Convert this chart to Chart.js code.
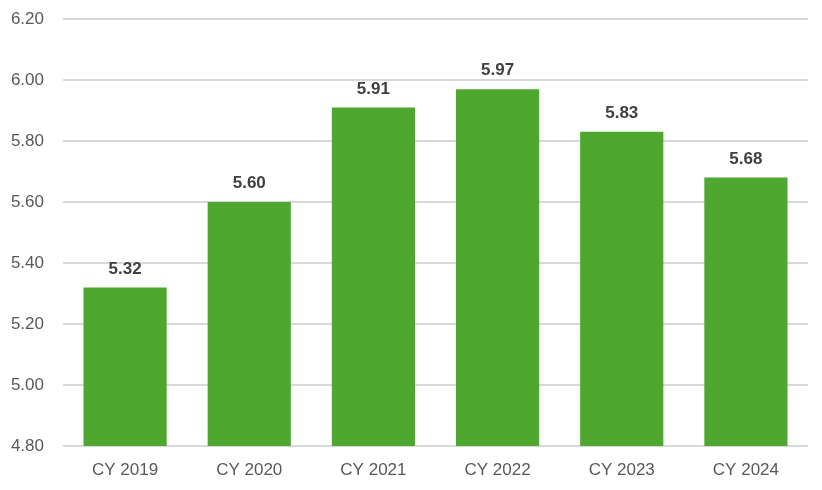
<!DOCTYPE html>
<html>
<head>
<meta charset="utf-8">
<script src="https://cdn.jsdelivr.net/npm/chart.js@4"></script>
<style>
  html, body { margin: 0; padding: 0; background: #fff; }
  #wrap { width: 822px; height: 490px; }
</style>
</head>
<body>
<div id="wrap"><canvas id="cyChart" width="822" height="490"></canvas></div>
<script>
const categories = ['CY 2019', 'CY 2020', 'CY 2021', 'CY 2022', 'CY 2023', 'CY 2024'];
const values = [5.32, 5.60, 5.91, 5.97, 5.83, 5.68];
const yMin = 4.80;
const yMax = 6.20;
const yStep = 0.20;

// etiquetas encima de cada barra
const barLabels = {
    id: 'barLabels',
    afterDatasetsDraw(chart) {
        const ctx = chart.ctx;
        const meta = chart.getDatasetMeta(0);
        ctx.save();
        ctx.font = 'bold 17px "Liberation Sans", Arial, sans-serif';
        ctx.fillStyle = '#404040';
        ctx.textAlign = 'center';
        ctx.textBaseline = 'bottom';
        meta.data.forEach(function (bar, i) {
            ctx.fillText(values[i].toFixed(2), bar.x, bar.y - 10);
        });
        ctx.restore();
    }
};

const ctx = document.getElementById('cyChart').getContext('2d');
const cyChart = new Chart(ctx, {
    type: 'bar',
    data: {
        labels: categories,
        datasets: [{
            data: values,
            backgroundColor: '#4EA72E',
            borderWidth: 0,
            barPercentage: 0.67,
            categoryPercentage: 1.0
        }]
    },
    options: {
        responsive: false,
        animation: false,
        layout: { padding: { left: 0, right: 14, top: 19, bottom: 0 } },
        plugins: {
            legend: { display: false },
            tooltip: { enabled: false }
        },
        scales: {
            x: {
                afterFit(scale) { scale.height = 44; },
                grid: { display: false },
                border: { display: false },
                ticks: {
                    color: '#595959',
                    font: { family: '"Liberation Sans", Arial, sans-serif', size: 17 },
                    padding: 6
                }
            },
            y: {
                min: yMin,
                max: yMax,
                afterFit(scale) {
                    scale.width = 63;
                    scale.paddingTop = 0;
                    scale.paddingBottom = 0;
                },
                grid: { color: '#d9d9d9', lineWidth: 2, drawTicks: false },
                border: { display: false },
                ticks: {
                    stepSize: yStep,
                    color: '#595959',
                    padding: 19,
                    font: { family: '"Liberation Sans", Arial, sans-serif', size: 17 },
                    callback: function (v) { return v.toFixed(2); }
                }
            }
        }
    },
    plugins: [barLabels]
});
</script>
</body>
</html>
